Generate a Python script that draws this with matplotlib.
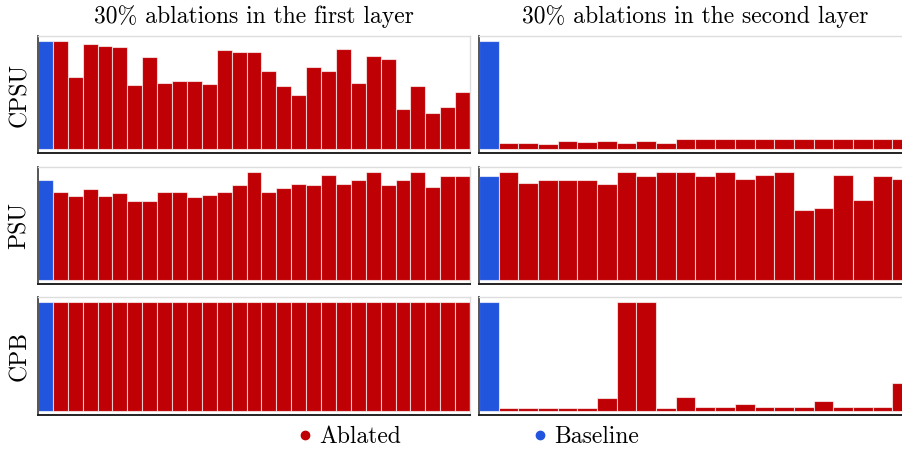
import numpy as np
import matplotlib
matplotlib.use("Agg")
import matplotlib.pyplot as plt
from matplotlib.lines import Line2D

plt.rcParams['font.family'] = 'serif'
plt.rcParams['font.serif'] = ['cmr10']
plt.rcParams['mathtext.fontset'] = 'cm'
plt.rcParams['axes.unicode_minus'] = False

RED = '#BF0005'
BLUE = '#2255DD'

titles = ["30% ablations in the first layer", "30% ablations in the second layer"]
rows = ["CPSU", "PSU", "CPB"]

# baseline score for each (row, layer)
baseline = {
    ("CPSU", 0): 1.0, ("CPSU", 1): 1.0,
    ("PSU", 0): 0.922, ("PSU", 1): 0.963,
    ("CPB", 0): 1.0, ("CPB", 1): 1.0,
}

# relative score after each ablation, first layer (28 runs)
cpsu_first = [1.0, 0.664, 0.969, 0.954, 0.941, 0.590, 0.855, 0.608, 0.627, 0.630,
              0.605, 0.914, 0.895, 0.898, 0.719, 0.586, 0.500, 0.762, 0.725, 0.926,
              0.611, 0.858, 0.830, 0.370, 0.583, 0.336, 0.392, 0.528]
psu_first = [0.814, 0.773, 0.842, 0.776, 0.804, 0.727, 0.733, 0.814, 0.814, 0.770,
             0.783, 0.814, 0.876, 1.0, 0.817, 0.854, 0.888, 0.876, 0.969, 0.888,
             0.925, 1.0, 0.882, 0.925, 1.0, 0.857, 0.966, 0.966]
cpb_first = [1.0] * 28

# second layer (21 runs)
cpsu_second = [0.056, 0.052, 0.046, 0.074, 0.068, 0.074, 0.059, 0.074, 0.056, 0.096,
               0.096, 0.096, 0.096, 0.096, 0.096, 0.096, 0.096, 0.096, 0.096, 0.096,
               0.096]
psu_second = [1.0, 0.898, 0.925, 0.925, 0.925, 0.891, 1.0, 0.966, 1.0, 1.0,
              0.966, 1.0, 0.935, 0.969, 1.0, 0.652, 0.671, 0.969, 0.736, 0.966,
              0.935]
cpb_second = [0.028, 0.025, 0.025, 0.025, 0.028, 0.121, 1.0, 1.0, 0.028, 0.130,
              0.037, 0.037, 0.065, 0.034, 0.034, 0.034, 0.087, 0.037, 0.037, 0.037,
              0.257]

ablated = {
    ("CPSU", 0): cpsu_first, ("CPSU", 1): cpsu_second,
    ("PSU", 0): psu_first, ("PSU", 1): psu_second,
    ("CPB", 0): cpb_first, ("CPB", 1): cpb_second,
}

W, H = 902, 449
fig = plt.figure(figsize=(W / 100, H / 100), dpi=100)

# panel boxes in pixels: (left, right) per column, (top, bottom) per row
cols_px = [(38, 470), (479, 912)]
rows_px = [(36, 153), (167, 284), (297, 415)]

for r, name in enumerate(rows):
    for c in range(2):
        x0, x1 = cols_px[c]
        t, b = rows_px[r]
        ax = fig.add_axes([x0 / W, 1 - b / H, (x1 - x0) / W, (b - t) / H])
        vals = ablated[(name, c)]
        n = len(vals)
        edge = (1, 1, 1, 0.65)
        ax.bar([0], [baseline[(name, c)]], width=1.0, color=BLUE, edgecolor=edge, linewidth=0.8)
        ax.bar(np.arange(1, n + 1), vals, width=1.0, color=RED, edgecolor=edge, linewidth=0.8)
        ax.set_xlim(-0.5, n + 0.5)
        ax.set_ylim(-0.037, 1.046)
        ax.set_xticks([])
        ax.set_yticks([])
        ax.spines['left'].set_color('#555555')
        ax.spines['left'].set_linewidth(1.4)
        ax.spines['bottom'].set_color('#222222')
        ax.spines['bottom'].set_linewidth(1.4)
        for s in ('top', 'right'):
            ax.spines[s].set_color('#dddddd')
            ax.spines[s].set_linewidth(1.0)
        if r == 0:
            ax.set_title(titles[c], fontsize=17, pad=9)
        if c == 0:
            ax.set_ylabel(name, fontsize=17, labelpad=5)

handles = [
    Line2D([], [], marker='o', linestyle='none', color=RED, markersize=6, label='Ablated'),
    Line2D([], [], marker='o', linestyle='none', color=BLUE, markersize=6, label='Baseline'),
]
fig.legend(handles=handles, loc='center', bbox_to_anchor=(466 / W, 1 - 437 / H),
           ncol=2, frameon=False, fontsize=17, handletextpad=0.1,
           columnspacing=5.4, handlelength=1.0)

fig.savefig('out.png', dpi=100)
